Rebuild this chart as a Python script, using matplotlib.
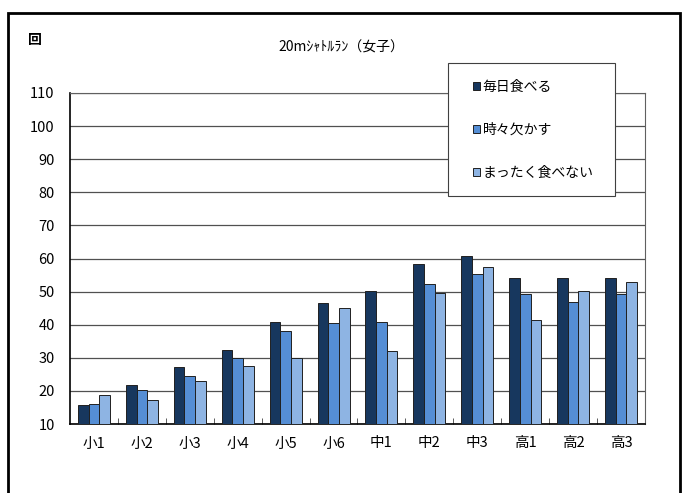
import matplotlib
matplotlib.use("Agg")
import matplotlib.pyplot as plt
import numpy as np
from matplotlib.patches import Rectangle

plt.rcParams['font.family'] = ['Noto Sans CJK JP', 'DejaVu Sans']

grades = ['小1', '小2', '小3', '小4', '小5', '小6', '中1', '中2', '中3', '高1', '高2', '高3']
every_day = [15.7, 21.8, 27.3, 32.4, 40.7, 46.7, 50.1, 58.2, 60.7, 54.2, 54.2, 54.2]
sometimes = [15.9, 20.3, 24.4, 29.9, 38.2, 40.6, 40.9, 52.3, 55.2, 49.4, 47.0, 49.2]
never = [18.9, 17.3, 23.0, 27.6, 29.9, 44.9, 32.1, 49.7, 57.5, 41.5, 50.3, 52.8]
labels = ['毎日食べる', '時々欠かす', 'まったく食べない']
colors = ['#17375E', '#558ED5', '#8EB4E3']

fig = plt.figure(figsize=(6.88, 4.93), dpi=100)
ax = fig.add_axes([70/688, 1-424/493, 575/688, 331/493])

x = np.arange(len(grades))
w = 0.223
for k, vals in enumerate([every_day, sometimes, never]):
    ax.bar(x + (k-1)*w, np.array(vals)-10, w, bottom=10, color=colors[k],
           edgecolor='#202020', linewidth=0.7, label=labels[k], zorder=3)

ax.set_xlim(-0.5, len(grades)-0.5)
ax.set_ylim(10, 110)
ax.set_yticks(range(10, 111, 10))
ax.set_xticks(x)
ax.set_xticklabels(grades)
ax.set_xticks(np.arange(0.5, len(grades)-0.5, 1), minor=True)
ax.tick_params(axis='x', which='major', length=0, pad=9, labelsize=10.5)
ax.tick_params(axis='x', which='minor', length=4, direction='in', color='#404040')
ax.tick_params(axis='y', length=0, pad=11, labelsize=10.5)
ax.grid(axis='y', color='#505050', linewidth=0.9, zorder=0)
for s in ['top', 'right']:
    ax.spines[s].set_color('#606060')
    ax.spines[s].set_linewidth(0.8)
for s in ['left', 'bottom']:
    ax.spines[s].set_color('black')
    ax.spines[s].set_linewidth(1.2)

fig.text(341/688, 1-48/493, '20mｼｬﾄﾙﾗﾝ（女子）', ha='center', va='center', fontsize=10)
fig.text(35/688, 1-40/493, '回', ha='center', va='center', fontsize=10, fontweight='bold')

# legend box drawn separately so its size matches
fig.patches.append(Rectangle((448/688, 1-196/493), 167/688, 133/493, transform=fig.transFigure,
                             facecolor='white', edgecolor='#404040', linewidth=0.8, zorder=5))
leg = fig.legend(loc='upper left', bbox_to_anchor=(473/688, 1-80/493), frameon=False,
                 fontsize=10, handlelength=0.5, handleheight=0.5, handletextpad=0.2,
                 labelspacing=2.08, borderpad=0, borderaxespad=0)
leg.set_zorder(6)

fig.patches.append(Rectangle((8/688, -0.05), 672/688, 1.05-13/493, transform=fig.transFigure,
                             fill=False, edgecolor='black', linewidth=2))

fig.savefig('out.png', dpi=100)
